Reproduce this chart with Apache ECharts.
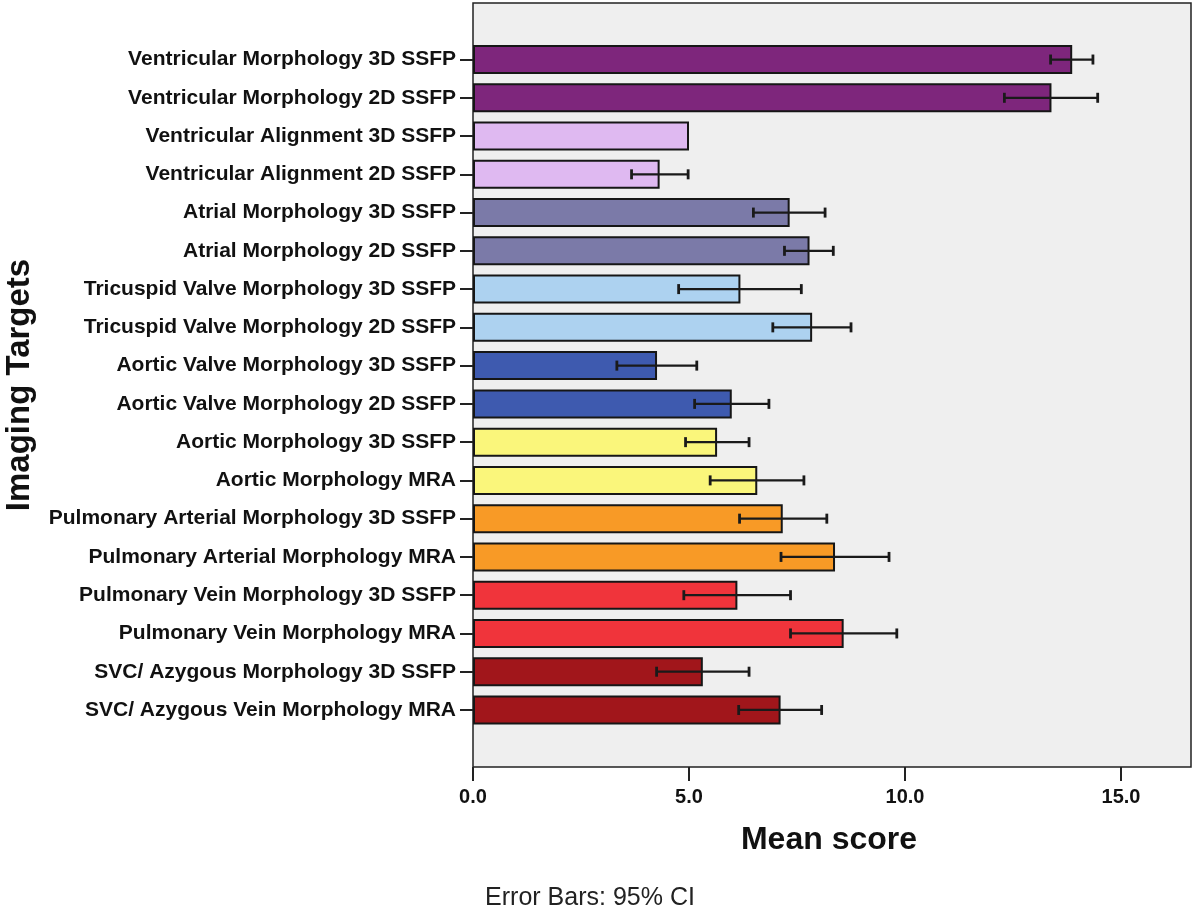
<!DOCTYPE html>
<html><head><meta charset="utf-8">
<script src="https://cdn.jsdelivr.net/npm/echarts@6/dist/echarts.min.js"></script>
<style>html,body{margin:0;padding:0;background:#fff}#c{width:1200px;height:916px}</style>
</head><body><div id="c"></div>
<script>
const categories = [
  'Ventricular Morphology 3D SSFP',
  'Ventricular Morphology 2D SSFP',
  'Ventricular Alignment 3D SSFP',
  'Ventricular Alignment 2D SSFP',
  'Atrial Morphology 3D SSFP',
  'Atrial Morphology 2D SSFP',
  'Tricuspid Valve Morphology 3D SSFP',
  'Tricuspid Valve Morphology 2D SSFP',
  'Aortic Valve Morphology 3D SSFP',
  'Aortic Valve Morphology 2D SSFP',
  'Aortic Morphology 3D SSFP',
  'Aortic Morphology MRA',
  'Pulmonary Arterial Morphology 3D SSFP',
  'Pulmonary Arterial Morphology MRA',
  'Pulmonary Vein Morphology 3D SSFP',
  'Pulmonary Vein Morphology MRA',
  'SVC/ Azygous Morphology 3D SSFP',
  'SVC/ Azygous Vein Morphology MRA'
];
const means  = [13.87, 13.39, 5.00, 4.32, 7.33, 7.79, 6.19, 7.85, 4.26, 5.99, 5.65, 6.58, 7.17, 8.38, 6.12, 8.58, 5.32, 7.12];
const ciLow  = [13.37, 12.30, null, 3.67, 6.49, 7.21, 4.76, 6.94, 3.33, 5.13, 4.92, 5.49, 6.17, 7.13, 4.88, 7.35, 4.25, 6.15];
const ciHigh = [14.35, 14.46, null, 4.98, 8.15, 8.34, 7.60, 8.75, 5.18, 6.85, 6.39, 7.66, 8.19, 9.63, 7.35, 9.81, 6.39, 8.07];
const xTicks = [0, 5, 10, 15];
const barColors = ['#7E267C','#7E267C','#DFB9F1','#DFB9F1','#7B7AA8','#7B7AA8','#ADD2F0','#ADD2F0','#3E5AAF','#3E5AAF',
                   '#FAF67B','#FAF67B','#F89A26','#F89A26','#F0343B','#F0343B','#A1161B','#A1161B'];

const FONT = "'Liberation Sans', Arial, Helvetica, sans-serif";
const XMAX = 16.62;
const chart = echarts.init(document.getElementById('c'), null, {renderer:'canvas'});
chart.setOption({
  animation: false,
  textStyle: {fontFamily: FONT},
  grid: [
    {left: 473, right: 9, top: 3, bottom: 149, show: true, backgroundColor: '#EFEFEF', borderColor: '#222', borderWidth: 1.5},
    {left: 473, right: 9, top: 40.4, height: 688.7}
  ],
  xAxis: [
    {gridIndex: 0, type: 'value', min: 0, max: XMAX,
     axisLine: {show: false},
     axisTick: {show: true, length: 14, customValues: xTicks, lineStyle: {color: '#222', width: 2}},
     axisLabel: {customValues: xTicks, formatter: v => Number(v).toFixed(1), fontFamily: FONT, fontWeight: 'bold', fontSize: 20, color: '#111', margin: 20},
     splitLine: {show: false}},
    {gridIndex: 1, type: 'value', min: 0, max: XMAX, show: false}
  ],
  yAxis: [
    {gridIndex: 0, type: 'value', show: false},
    {gridIndex: 1, type: 'category', data: categories, inverse: true,
     axisLine: {show: false},
     axisTick: {show: true, length: 13, alignWithLabel: true, lineStyle: {color: '#222', width: 2}},
     axisLabel: {fontFamily: FONT, fontWeight: 'bold', fontSize: 21, color: '#111', margin: 17}}
  ],
  series: [
    {type: 'bar', xAxisIndex: 1, yAxisIndex: 1, barWidth: 29, z: 2,
     data: means.map((v, i) => ({value: v, itemStyle: {color: barColors[i]}})),
     itemStyle: {borderColor: '#161616', borderWidth: 2}},
    {type: 'custom', xAxisIndex: 1, yAxisIndex: 1, z: 5,
     encode: {x: [1, 2], y: 0},
     data: categories.map((c, i) => [i, ciLow[i], ciHigh[i]]),
     renderItem: function (params, api) {
       const cat = api.value(0), lo = api.value(1), hi = api.value(2);
       if (lo == null || hi == null || isNaN(lo) || isNaN(hi)) return null;
       const p1 = api.coord([lo, cat]), p2 = api.coord([hi, cat]);
       const st = {stroke: '#1a1a1a', lineWidth: 2.2};
       const cap = {stroke: '#1a1a1a', lineWidth: 2.8};
       const h = 5;
       return {type: 'group', children: [
         {type: 'line', shape: {x1: p1[0], y1: p1[1], x2: p2[0], y2: p2[1]}, style: st},
         {type: 'line', shape: {x1: p1[0], y1: p1[1] - h, x2: p1[0], y2: p1[1] + h}, style: cap},
         {type: 'line', shape: {x1: p2[0], y1: p2[1] - h, x2: p2[0], y2: p2[1] + h}, style: cap}
       ]};
     }}
  ],
  graphic: [
    {type: 'text', x: 20, y: 385, rotation: Math.PI / 2,
     style: {text: 'Imaging Targets', fontFamily: FONT, fontWeight: 'bold', fontSize: 33, fill: '#111', textAlign: 'center', textVerticalAlign: 'middle'}},
    {type: 'text', x: 829, y: 840,
     style: {text: 'Mean score', fontFamily: FONT, fontWeight: 'bold', fontSize: 32, fill: '#111', textAlign: 'center', textVerticalAlign: 'middle'}},
    {type: 'text', x: 590, y: 898,
     style: {text: 'Error Bars: 95% CI', fontFamily: FONT, fontSize: 25, fill: '#222', textAlign: 'center', textVerticalAlign: 'middle'}}
  ]
});
</script>
</body></html>
